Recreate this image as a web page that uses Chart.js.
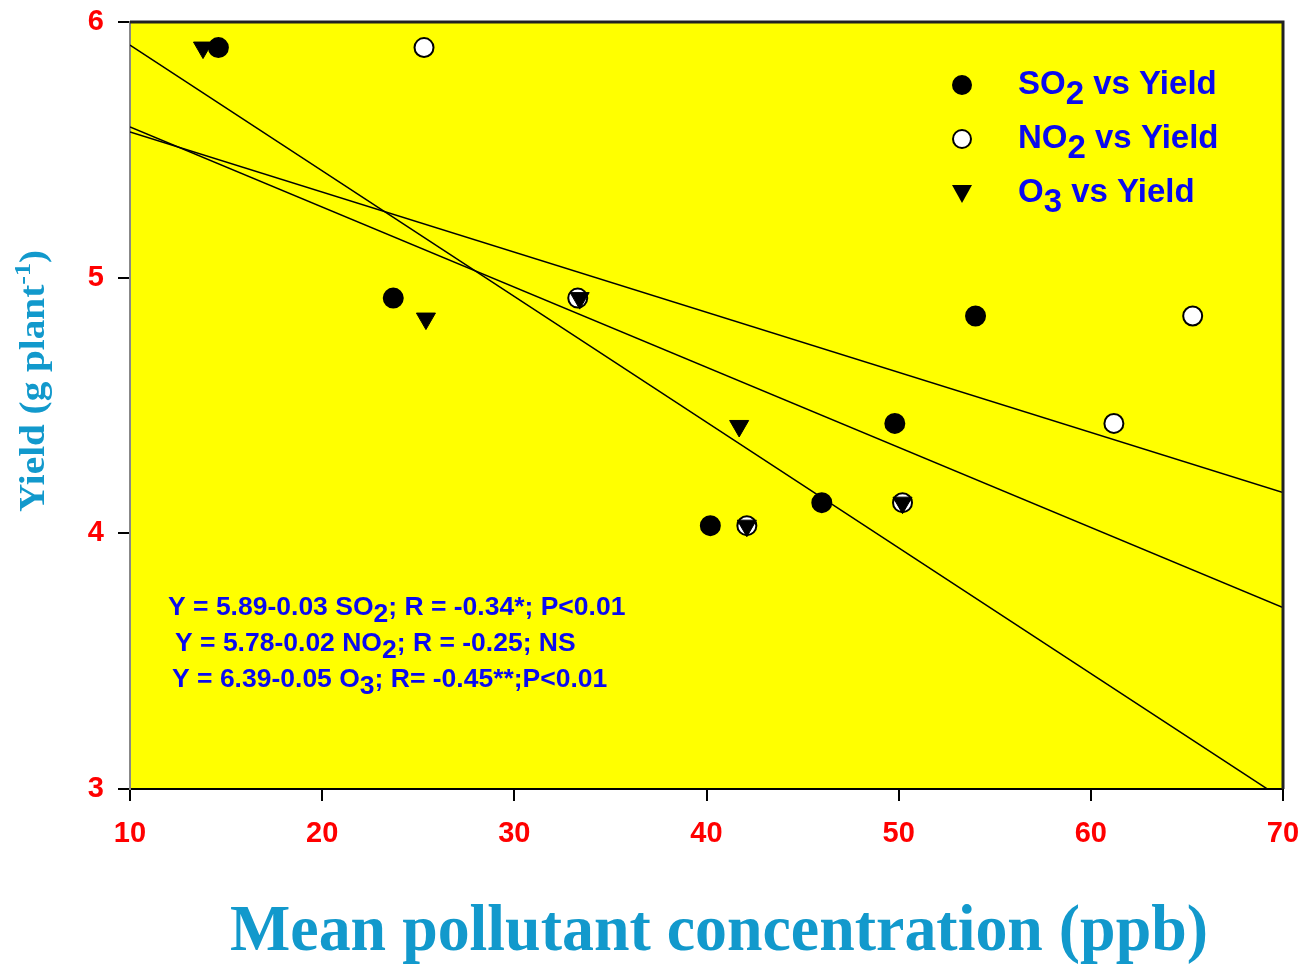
<!DOCTYPE html>
<html>
<head>
<meta charset="utf-8">
<script src="https://cdn.jsdelivr.net/npm/chart.js@4.4.1/dist/chart.umd.min.js"></script>
<style>
  html, body { margin: 0; padding: 0; background: #fff; }
  #wrap { width: 1304px; height: 964px; }
</style>
</head>
<body>
<div id="wrap"><canvas id="grafica" width="1304" height="964"></canvas></div>
<script>
// valores
const so2X = [14.6, 23.7, 40.2, 46.0, 49.8, 54.0];
const so2Y = [5.90, 4.92, 4.03, 4.12, 4.43, 4.85];
const no2X = [25.3, 33.3, 42.1, 50.2, 61.2, 65.3];
const no2Y = [5.90, 4.92, 4.03, 4.12, 4.43, 4.85];
const o3X = [13.8, 25.4, 33.4, 41.7, 42.1, 50.2];
const o3Y = [5.90, 4.84, 4.92, 4.42, 4.03, 4.12];

const lineaX = [10, 70];
const lineaO3 = [5.91, 2.96];
const lineaSO2 = [5.59, 3.71];
const lineaNO2 = [5.57, 4.16];

const xTicks = [10, 20, 30, 40, 50, 60, 70];
const yTicks = [3, 4, 5, 6];

const ecuaciones = [
  [["Y = 5.89-0.03 SO"], ["2", true], ["; R = -0.34*; P<0.01"]],
  [["Y = 5.78-0.02 NO"], ["2", true], ["; R = -0.25; NS"]],
  [["Y = 6.39-0.05 O"], ["3", true], ["; R= -0.45**;P<0.01"]]
];
const leyenda = [
  { partes: [["SO"], ["2", true], [" vs Yield"]], tipo: "so2" },
  { partes: [["NO"], ["2", true], [" vs Yield"]], tipo: "no2" },
  { partes: [["O"], ["3", true], [" vs Yield"]], tipo: "o3" }
];

function puntos(xs, ys) {
  return xs.map((x, i) => ({ x: x, y: ys[i] }));
}

const azulTitulo = "#1299cc";
const azulTexto = "#0a0af0";

function textoRico(ctx, partes, x, y, subBaja) {
  let cx = x;
  partes.forEach(p => {
    ctx.fillText(p[0], cx, p[1] ? y + subBaja : y);
    cx += ctx.measureText(p[0]).width;
  });
}

const extras = {
  id: "extras",
  beforeDraw(chart) {
    const { ctx, chartArea: a } = chart;
    ctx.save();
    ctx.fillStyle = "#ffff00";
    ctx.fillRect(a.left, a.top, a.right - a.left, a.bottom - a.top);
    ctx.restore();
  },
  afterDraw(chart) {
    const { ctx, chartArea: a } = chart;
    ctx.save();
    // marco superior y derecho
    ctx.strokeStyle = "#222";
    ctx.lineWidth = 3;
    ctx.beginPath();
    ctx.moveTo(a.left, a.top);
    ctx.lineTo(a.right, a.top);
    ctx.lineTo(a.right, a.bottom);
    ctx.stroke();

    // ecuaciones
    ctx.fillStyle = azulTexto;
    ctx.font = "bold 26.5px 'Liberation Sans', Arial, sans-serif";
    ctx.textBaseline = "alphabetic";
    ctx.textAlign = "left";
    const ex = [168, 175, 172];
    const ey = [615, 651, 687];
    ecuaciones.forEach((e, i) => textoRico(ctx, e, ex[i], ey[i], 7));

    // leyenda
    ctx.font = "bold 33px 'Liberation Sans', Arial, sans-serif";
    const ly = [85, 139, 193];
    leyenda.forEach((l, i) => {
      const mx = 962, my = ly[i];
      ctx.beginPath();
      if (l.tipo === "o3") {
        ctx.moveTo(mx - 10, my - 8);
        ctx.lineTo(mx + 10, my - 8);
        ctx.lineTo(mx, my + 10);
        ctx.closePath();
        ctx.fillStyle = "#000";
        ctx.fill();
      } else {
        ctx.arc(mx, my, 9, 0, Math.PI * 2);
        ctx.fillStyle = l.tipo === "so2" ? "#000" : "#fff";
        ctx.fill();
        ctx.lineWidth = 2;
        ctx.strokeStyle = "#000";
        ctx.stroke();
      }
      ctx.fillStyle = azulTexto;
      textoRico(ctx, l.partes, 1018, my + 9, 10);
    });

    // titulo eje x
    ctx.fillStyle = azulTitulo;
    ctx.font = "bold 66px 'Liberation Serif', 'Times New Roman', serif";
    const tx = "Mean pollutant concentration (ppb)";
    const w = ctx.measureText(tx).width;
    ctx.save();
    ctx.translate(230, 950);
    ctx.scale(978 / w, 1);
    ctx.fillText(tx, 0, 0);
    ctx.restore();

    // titulo eje y
    ctx.save();
    ctx.translate(44, 512);
    ctx.rotate(-Math.PI / 2);
    const f1 = "bold 36px 'Liberation Serif', 'Times New Roman', serif";
    const f2 = "bold 24px 'Liberation Serif', 'Times New Roman', serif";
    ctx.font = f1;
    const a1 = "Yield (g plant";
    const w1 = ctx.measureText(a1).width;
    ctx.font = f2;
    const w2 = ctx.measureText("-1").width;
    ctx.font = f1;
    const w3 = ctx.measureText(")").width;
    const tot = w1 + w2 + w3;
    ctx.scale(262 / tot, 1);
    ctx.fillText(a1, 0, 0);
    ctx.font = f2;
    ctx.fillText("-1", w1, -14);
    ctx.font = f1;
    ctx.fillText(")", w1 + w2, 0);
    ctx.restore();

    ctx.restore();
  }
};

const fuenteTicks = { family: "'Liberation Sans', Arial, sans-serif", size: 29, weight: "bold" };

new Chart(document.getElementById("grafica"), {
  type: "scatter",
  data: {
    datasets: [
      { label: "O3", data: puntos(o3X, o3Y), pointStyle: "triangle", rotation: 180, radius: 11,
        backgroundColor: "#000", borderColor: "#000", borderWidth: 1, order: 1 },
      { label: "NO2", data: puntos(no2X, no2Y), pointStyle: "circle", radius: 9.5,
        backgroundColor: "#fff", borderColor: "#000", borderWidth: 2, order: 2 },
      { label: "SO2", data: puntos(so2X, so2Y), pointStyle: "circle", radius: 9.5,
        backgroundColor: "#000", borderColor: "#000", borderWidth: 2, order: 3 },
      { type: "line", label: "rO3", data: puntos(lineaX, lineaO3), borderColor: "#000", borderWidth: 1.5,
        pointRadius: 0, fill: false, order: 4 },
      { type: "line", label: "rSO2", data: puntos(lineaX, lineaSO2), borderColor: "#000", borderWidth: 1.5,
        pointRadius: 0, fill: false, order: 4 },
      { type: "line", label: "rNO2", data: puntos(lineaX, lineaNO2), borderColor: "#000", borderWidth: 1.5,
        pointRadius: 0, fill: false, order: 4 }
    ]
  },
  options: {
    responsive: false,
    animation: false,
    layout: { padding: { top: 22, right: 21, left: 0, bottom: 0 } },
    plugins: { legend: { display: false }, tooltip: { enabled: false } },
    scales: {
      x: {
        type: "linear", min: 10, max: 70,
        afterBuildTicks: s => { s.ticks = xTicks.map(v => ({ value: v })); },
        afterFit: s => { s.height = 964 - 789; s.paddingLeft = 0; s.paddingRight = 0; },
        grid: { drawOnChartArea: false, tickLength: 12, color: "#000", lineWidth: 2 },
        border: { color: "#000", width: 2 },
        ticks: { color: "#ff0000", font: fuenteTicks, padding: 16, maxRotation: 0 }
      },
      y: {
        type: "linear", min: 3, max: 6,
        afterBuildTicks: s => { s.ticks = yTicks.map(v => ({ value: v })); },
        afterFit: s => { s.width = 130; s.paddingTop = 0; s.paddingBottom = 0; },
        grid: { drawOnChartArea: false, tickLength: 12, color: "#000", lineWidth: 2 },
        border: { color: "#888", width: 2 },
        ticks: { color: "#ff0000", font: fuenteTicks, padding: 14 }
      }
    }
  },
  plugins: [extras]
});
</script>
</body>
</html>
